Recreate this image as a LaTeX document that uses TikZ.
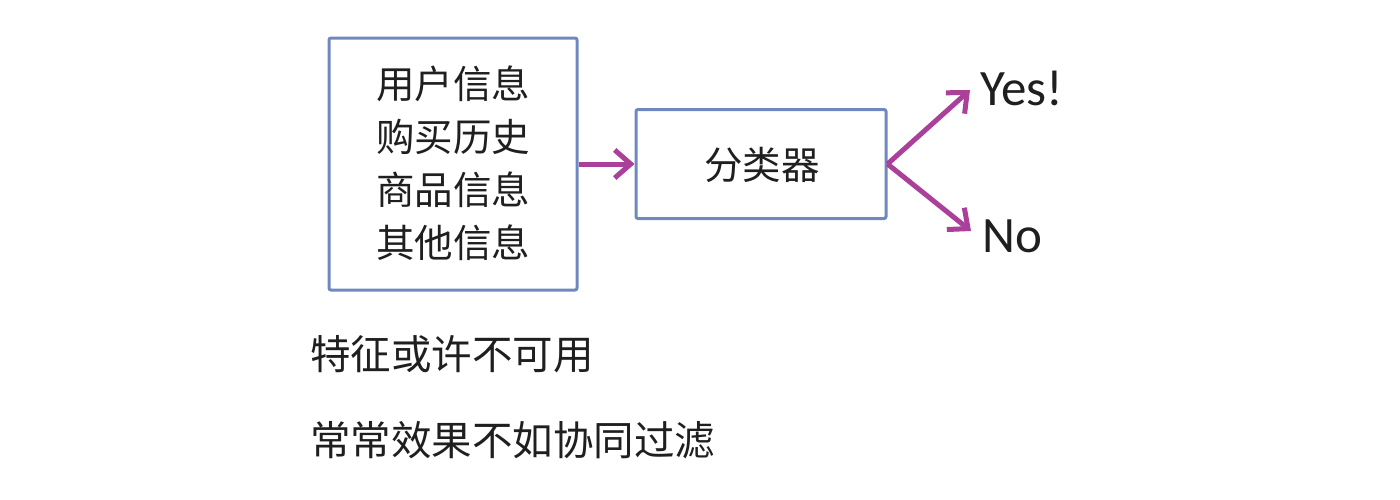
\documentclass[tikz,border=0pt]{standalone}
\usepackage{fontspec}
\newfontfamily\cjk{Noto Sans CJK SC}
\newfontfamily\lat{Carlito}
\usetikzlibrary{arrows.meta}
\definecolor{boxblue}{RGB}{112,136,192}
\definecolor{arrmag}{RGB}{170,64,154}
\tikzset{
  boxstyle/.style={draw=boxblue, line width=3pt, rounded corners=2pt, inner sep=0pt},
  cjktext/.style={font=\cjk\fontsize{38.5}{53}\selectfont, text=black!88, align=center, inner sep=0pt},
  lattext/.style={font=\lat\fontsize{51}{56}\selectfont, text=black!88, inner sep=0pt},
  arr/.style={draw=arrmag, line width=5pt, -{Straight Barb[length=16pt,width=28pt]}},
}
\begin{document}
\begin{tikzpicture}[x=1pt,y=-1pt]
\useasboundingbox (0,0) rectangle (1400,499);
\node[boxstyle, minimum width=248pt, minimum height=252pt] (inp) at (453,164) {};
\node[cjktext] (inptxt) at (453,163) {用户信息\\购买历史\\商品信息\\其他信息};
\node[boxstyle, minimum width=250pt, minimum height=109pt] (clf) at (761,164) {};
\node[cjktext] (clftxt) at (762,165) {分类器};
\node[lattext, anchor=west] (yes) at (980,88) {Yes!};
\node[lattext, anchor=west] (no) at (982,236) {No};
\coordinate (yesend) at (970,90);
\coordinate (noend) at (971,231);
\node[cjktext, font=\cjk\fontsize{40.5}{48}\selectfont, anchor=west] (n1) at (310,354) {特征或许不可用};
\node[cjktext, font=\cjk\fontsize{40.5}{48}\selectfont, anchor=west] (n2) at (310,440) {常常效果不如协同过滤};
\draw[arr] (inp.east) -- (clf.west);
\draw[arr] (clf.east) -- (yesend);
\draw[arr] (clf.east) -- (noend);
\end{tikzpicture}
\end{document}
